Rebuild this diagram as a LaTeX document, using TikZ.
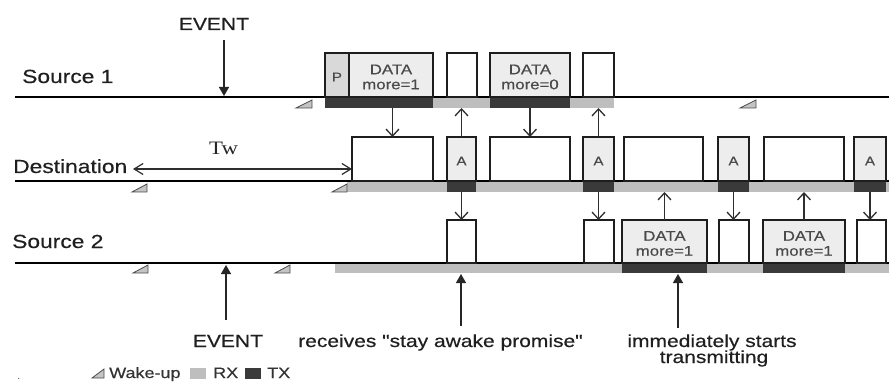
\documentclass[tikz,border=0pt]{standalone}
\usepackage{fontspec}
\setmainfont{Liberation Sans}[FakeStretch=1.2]
\newfontfamily\lblfont{Liberation Sans}[FakeStretch=1.2,FakeBold=0.4]
\newfontfamily\twfont{Liberation Serif}[FakeStretch=1.2]
\usetikzlibrary{arrows.meta}
\definecolor{rxc}{HTML}{BEBEBE}
\definecolor{txc}{HTML}{3A3A3A}
\definecolor{pfill}{HTML}{D9D9D9}
\definecolor{dfill}{HTML}{EDEDED}
\definecolor{boxline}{HTML}{1E1E1E}
\definecolor{arrc}{HTML}{2E2E2E}
\definecolor{datatxt}{HTML}{4A4A4A}
\definecolor{wakefill}{HTML}{C4C4C4}
\definecolor{wakeline}{HTML}{4A4A4A}
\tikzset{
  timeline/.style={line width=2.8pt, draw=black},
  pktbox/.style={draw=boxline, line width=2.1pt, inner sep=0pt, outer sep=0pt},
  pkttext/.style={inner sep=0pt, align=center, text=datatxt, font=\lblfont\fontsize{14}{15}\selectfont},
  acktext/.style={inner sep=0pt, text=datatxt, font=\lblfont\fontsize{12.5}{12}\selectfont},
  barbox/.style={draw=none, inner sep=0pt, outer sep=0pt},
  wakeup/.style={fill=wakefill, draw=wakeline, line width=0.8pt, line join=miter},
  rowlabel/.style={inner sep=0pt, text=black!88, font=\lblfont\fontsize{19}{20}\selectfont, anchor=base west},
  notelabel/.style={inner sep=0pt, text=black!88, font=\lblfont\fontsize{17.5}{20}\selectfont},
  msg/.style={draw=arrc, line width=1.4pt, -{Straight Barb[length=7pt,width=13pt,line width=1.3pt]}},
  evarr/.style={draw=black!85, line width=1.4pt, -{Triangle[length=9pt,width=10pt]}},
  twarr/.style={draw=arrc, line width=1.2pt, {Straight Barb[length=9pt,width=11pt]}-{Straight Barb[length=9pt,width=11pt]}},
  legendtext/.style={inner sep=0pt, text=black!80, font=\lblfont\fontsize{15}{16}\selectfont, anchor=base west},
}
% name, x1, x2, ytop, ybot, fill, textstyle, text
\newcommand\pkt[8]{%
  \node[pktbox, fill=#6, minimum width={#3-#2}, minimum height={#5-#4}] (#1) at ({(#2+#3)/2},{(#4+#5)/2}) {};
  \node[#7] (#1t) at ([yshift=-2pt]#1.center) {#8};}
% name, x1, x2, ytop, ybot
\newcommand\ebox[5]{%
  \node[pktbox, fill=white, minimum width={#3-#2}, minimum height={#5-#4}] (#1) at ({(#2+#3)/2},{(#4+#5)/2}) {};}
\newcommand\mkbar[6]{%
  \node[barbox, fill=#6, minimum width={#3-#2}, minimum height={#5-#4}] (#1) at ({(#2+#3)/2},{(#4+#5)/2}) {};}
\newcommand\wake[3]{\draw[wakeup] (#1,#3) -- (#2,#3) -- (#2,{#3-8}) -- cycle;}
\begin{document}
\begin{tikzpicture}[x=1pt,y=-1pt]
\useasboundingbox (0,0) rectangle (889,382);
% ---------- bars ----------
\mkbar{s1tx1}{325}{433}{98}{108}{txc}
\mkbar{s1rx1}{433}{490}{98}{108}{rxc}
\mkbar{s1tx2}{490}{570}{98}{108}{txc}
\mkbar{s1rx2}{570}{614}{98}{108}{rxc}
\mkbar{drx}{347}{889}{182}{192}{rxc}
\mkbar{dtx1}{447}{476}{182}{192}{txc}
\mkbar{dtx2}{583}{614}{182}{192}{txc}
\mkbar{dtx3}{718}{749}{182}{192}{txc}
\mkbar{dtx4}{854}{886}{182}{192}{txc}
\mkbar{s2rx}{335}{889}{264}{273}{rxc}
\mkbar{s2tx1}{622}{707}{264}{273}{txc}
\mkbar{s2tx2}{763}{845}{264}{273}{txc}
% ---------- timelines ----------
\coordinate (s1L) at (15,97);  \coordinate (s1R) at (889,97);
\coordinate (dL) at (15,181);  \coordinate (dR) at (889,181);
\coordinate (s2L) at (15,263); \coordinate (s2R) at (889,263);
\draw[timeline] (s1L) -- (s1R);
\draw[timeline] (dL) -- (dR);
\draw[timeline] (s2L) -- (s2R);
% ---------- Source 1 packets ----------
\pkt{p1}{325}{349}{53}{97}{pfill}{acktext}{P}
\pkt{s1d1}{349}{433}{53}{97}{dfill}{pkttext}{DATA\\more=1}
\ebox{s1e1}{447}{477}{53}{97}
\pkt{s1d2}{490}{570}{53}{97}{dfill}{pkttext}{DATA\\more=0}
\ebox{s1e2}{583}{614}{53}{97}
% ---------- Destination packets ----------
\ebox{d1}{352}{433}{137}{181}
\pkt{da1}{447}{476}{137}{181}{dfill}{acktext}{A}
\ebox{d2}{490}{570}{137}{181}
\pkt{da2}{583}{614}{137}{181}{dfill}{acktext}{A}
\ebox{d3}{624}{703}{137}{181}
\pkt{da3}{718}{749}{137}{181}{dfill}{acktext}{A}
\ebox{d4}{764}{844}{137}{181}
\pkt{da4}{854}{886}{137}{181}{dfill}{acktext}{A}
% ---------- Source 2 packets ----------
\ebox{s2e1}{447}{476}{220}{263}
\ebox{s2e2}{584}{614}{220}{263}
\pkt{s2d1}{622}{707}{220}{263}{dfill}{pkttext}{DATA\\more=1}
\ebox{s2e3}{719}{749}{220}{263}
\pkt{s2d2}{763}{845}{220}{263}{dfill}{pkttext}{DATA\\more=1}
\ebox{s2e4}{857}{886}{220}{263}
% ---------- wake-up marks ----------
\wake{296}{312}{108}
\wake{740}{756}{108}
\wake{132}{147}{192}
\wake{332}{347}{192}
\wake{133}{148}{273}
\wake{275}{290}{273}
% ---------- messages ----------
\draw[msg] (d1.north |- s1tx1.south) -- (d1.north);
\draw[msg] (da1.north) -- (da1.north |- s1rx1.south);
\draw[msg] (d2.north |- s1tx2.south) -- (d2.north);
\draw[msg] (da2.north) -- (da2.north |- s1rx2.south);
\draw[msg] (dtx1.south) -- (dtx1.south |- s2e1.north);
\draw[msg] (dtx2.south) -- (dtx2.south |- s2e2.north);
\draw[msg] (s2d1.north) -- (s2d1.north |- drx.south);
\draw[msg] (dtx3.south) -- (dtx3.south |- s2e3.north);
\draw[msg] (s2d2.north) -- (s2d2.north |- drx.south);
\draw[msg] (dtx4.south) -- (dtx4.south |- s2e4.north);
% ---------- row labels ----------
\node[rowlabel] (lbs1) at (22,83) {Source 1};
\node[rowlabel] (lbd) at (13,173) {Destination};
\node[rowlabel] (lbs2) at (12,248) {Source 2};
% ---------- Tw ----------
\node[inner sep=0pt, anchor=base west, text=black!85, font=\twfont\fontsize{19}{20}\selectfont] (tw) at (209,155) {Tw};
\coordinate (twl) at (133,169);
\draw[twarr] (twl) -- (twl -| d1.west);
% ---------- events ----------
\node[notelabel, anchor=base] (ev1) at (214,30) {EVENT};
\coordinate (ev1tip) at (224,96);
\draw[evarr, shorten <=10pt] (ev1.south -| ev1tip) -- (ev1tip);
\node[notelabel, anchor=base] (ev2) at (228,347) {EVENT};
\coordinate (ev2tip) at (226,265);
\draw[evarr, shorten <=15pt] (ev2.north -| ev2tip) -- (ev2tip);
\node[notelabel, anchor=base west] (recv) at (298,347) {receives "stay awake promise"};
\coordinate (recvtip) at (461,274);
\draw[evarr, shorten <=8pt] (recv.north -| recvtip) -- (recvtip);
\node[notelabel, anchor=base] (imm1) at (712,347) {immediately starts};
\node[notelabel, anchor=base] (imm2) at (714,363) {transmitting};
\coordinate (immtip) at (678,274);
\draw[evarr, shorten <=6pt] (imm1.north -| immtip) -- (immtip);
% ---------- legend ----------
\node[legendtext, text=black!60, font=\fontsize{10}{10}\selectfont] (dot) at (17,379) {.};
\draw[wakeup] (92,378) -- (104,378) -- (104,369) -- cycle;
\node[legendtext] (lgw) at (109,378) {Wake-up};
\node[barbox, fill=rxc, minimum width=16pt, minimum height=11pt, anchor=south west] (lgrx) at (190,379) {};
\node[legendtext] (lgrxt) at (213,378) {RX};
\node[barbox, fill=txc, minimum width=16pt, minimum height=11pt, anchor=south west] (lgtx) at (245,379) {};
\node[legendtext] (lgtxt) at (267,378) {TX};
\end{tikzpicture}
\end{document}
